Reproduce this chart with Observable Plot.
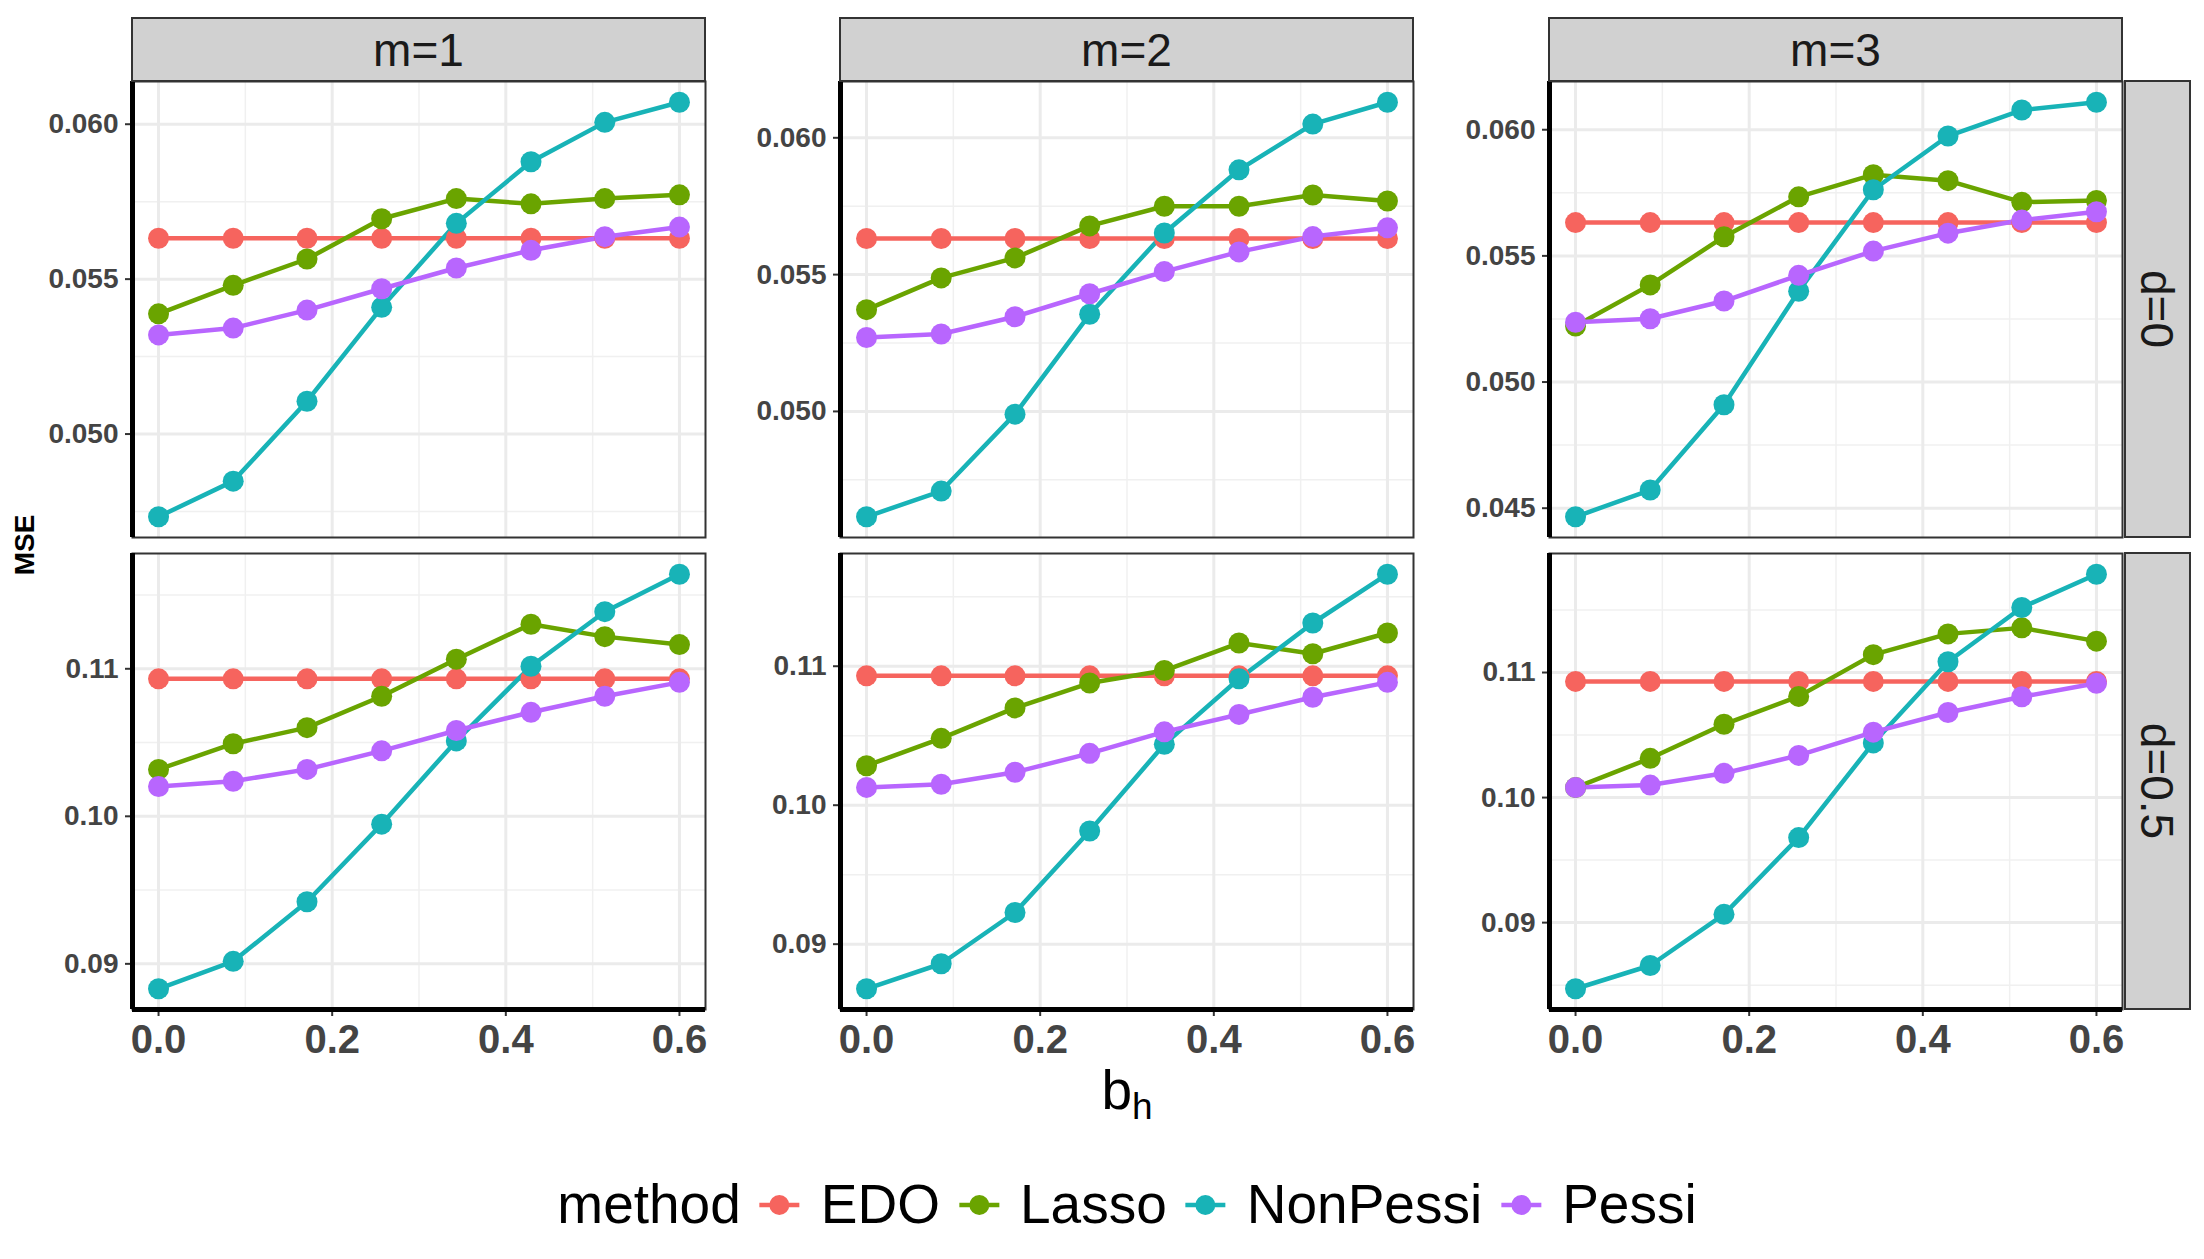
<!DOCTYPE html>
<html>
<head>
<meta charset="utf-8">
<script src="https://cdn.jsdelivr.net/npm/d3@7"></script>
<script src="https://cdn.jsdelivr.net/npm/@observablehq/plot@0.6"></script>
<style>
html, body { margin: 0; padding: 0; background: #fff; }
#root { position: relative; width: 2204px; height: 1259px; overflow: hidden; background: #fff;
  font-family: "Liberation Sans", Arial, Helvetica, sans-serif; }
.strip { position: absolute; box-sizing: border-box; background: #D1D1D1; border: 2px solid #333;
  display: flex; align-items: center; justify-content: center; color: #1A1A1A; font-size: 46px; }
.strip span { display: inline-block; white-space: nowrap; line-height: 1; }
.panel { position: absolute; }
.ylab { position: absolute; font-weight: bold; font-size: 28px; color: #000; white-space: nowrap;
  transform: translate(-50%, -50%) rotate(-90deg); line-height: 1; }
.xlab { position: absolute; font-size: 55px; color: #000; line-height: 1; white-space: nowrap; transform: translateX(-50%); }
.xlab sub { font-size: 37px; vertical-align: -10px; line-height: 1; }
.legend { position: absolute; display: flex; align-items: center; height: 55px; line-height: 1;
  font-size: 55px; color: #000; white-space: nowrap; transform: translateX(-50%); }
.legend svg { display: block; }
</style>
</head>
<body>
<div id="root"></div>
<script>
// ---------- data ----------
const methods = ["EDO", "Lasso", "NonPessi", "Pessi"];
const colors = ["#F6645E", "#6AA400", "#18B3B7", "#B866FE"];
const mLabels = ["m=1", "m=2", "m=3"];
const dLabels = ["d=0", "d=0.5"];
const bh = [0, 0.086, 0.171, 0.257, 0.343, 0.429, 0.514, 0.6];
const xTicks = [0, 0.2, 0.4, 0.6];
const xMinor = [0.1, 0.3, 0.5];

// d = 0
const edo_d0_m1      = [0.05632, 0.05632, 0.05632, 0.05632, 0.05632, 0.05632, 0.05632, 0.05632];
const lasso_d0_m1    = [0.05388, 0.05480, 0.05565, 0.05695, 0.05760, 0.05743, 0.05760, 0.05772];
const nonpessi_d0_m1 = [0.04733, 0.04848, 0.05106, 0.05409, 0.05680, 0.05879, 0.06006, 0.06071];
const pessi_d0_m1    = [0.05320, 0.05342, 0.05400, 0.05469, 0.05536, 0.05593, 0.05637, 0.05668];

const edo_d0_m2      = [0.05632, 0.05632, 0.05632, 0.05632, 0.05632, 0.05632, 0.05632, 0.05632];
const lasso_d0_m2    = [0.05372, 0.05488, 0.05561, 0.05678, 0.05750, 0.05750, 0.05791, 0.05769];
const nonpessi_d0_m2 = [0.04615, 0.04709, 0.04990, 0.05355, 0.05652, 0.05883, 0.06050, 0.06130];
const pessi_d0_m2    = [0.05270, 0.05283, 0.05346, 0.05430, 0.05511, 0.05583, 0.05639, 0.05671];

const edo_d0_m3      = [0.05632, 0.05632, 0.05632, 0.05632, 0.05632, 0.05632, 0.05632, 0.05632];
const lasso_d0_m3    = [0.05222, 0.05385, 0.05576, 0.05734, 0.05822, 0.05798, 0.05713, 0.05720];
const nonpessi_d0_m3 = [0.04466, 0.04572, 0.04910, 0.05360, 0.05762, 0.05975, 0.06078, 0.06109];
const pessi_d0_m3    = [0.05237, 0.05251, 0.05321, 0.05423, 0.05519, 0.05590, 0.05642, 0.05675];

// d = 0.5
const edo_d5_m1      = [0.10932, 0.10932, 0.10932, 0.10932, 0.10932, 0.10932, 0.10932, 0.10932];
const lasso_d5_m1    = [0.10318, 0.10492, 0.10601, 0.10814, 0.11065, 0.11302, 0.11218, 0.11164];
const nonpessi_d5_m1 = [0.08831, 0.09017, 0.09421, 0.09947, 0.10511, 0.11017, 0.11387, 0.11641];
const pessi_d5_m1    = [0.10202, 0.10238, 0.10318, 0.10444, 0.10582, 0.10705, 0.10814, 0.10908];

const edo_d5_m2      = [0.10931, 0.10931, 0.10931, 0.10931, 0.10931, 0.10931, 0.10931, 0.10931];
const lasso_d5_m2    = [0.10284, 0.10481, 0.10700, 0.10879, 0.10969, 0.11167, 0.11090, 0.11239];
const nonpessi_d5_m2 = [0.08679, 0.08859, 0.09228, 0.09814, 0.10438, 0.10910, 0.11311, 0.11662];
const pessi_d5_m2    = [0.10128, 0.10151, 0.10237, 0.10373, 0.10528, 0.10653, 0.10777, 0.10884];

const edo_d5_m3      = [0.10929, 0.10929, 0.10929, 0.10929, 0.10929, 0.10929, 0.10929, 0.10929];
const lasso_d5_m3    = [0.10080, 0.10314, 0.10586, 0.10809, 0.11143, 0.11309, 0.11357, 0.11251];
const nonpessi_d5_m3 = [0.08471, 0.08657, 0.09066, 0.09680, 0.10437, 0.11086, 0.11520, 0.11786];
const pessi_d5_m3    = [0.10080, 0.10100, 0.10194, 0.10337, 0.10523, 0.10680, 0.10806, 0.10914];

// y tick labels
const yTicks_d0_m12 = [0.050, 0.055, 0.060];
const yTicks_d0_m3  = [0.045, 0.050, 0.055, 0.060];
const yMinor_d0     = [0.0425, 0.0475, 0.0525, 0.0575, 0.0625];
const yTicks_d5     = [0.09, 0.10, 0.11];
const yMinor_d5     = [0.085, 0.095, 0.105, 0.115];

// ---------- layout ----------
const root = document.getElementById("root");
const PW = 573, PH = 456;
const colLeft = [132, 840, 1549];
const rowTop = [81, 553];
const stripTop = 17;

const panels = [
  {row: 0, col: 0, s: [edo_d0_m1, lasso_d0_m1, nonpessi_d0_m1, pessi_d0_m1], ticks: yTicks_d0_m12, minor: yMinor_d0, fmt: ".3f"},
  {row: 0, col: 1, s: [edo_d0_m2, lasso_d0_m2, nonpessi_d0_m2, pessi_d0_m2], ticks: yTicks_d0_m12, minor: yMinor_d0, fmt: ".3f"},
  {row: 0, col: 2, s: [edo_d0_m3, lasso_d0_m3, nonpessi_d0_m3, pessi_d0_m3], ticks: yTicks_d0_m3,  minor: yMinor_d0, fmt: ".3f"},
  {row: 1, col: 0, s: [edo_d5_m1, lasso_d5_m1, nonpessi_d5_m1, pessi_d5_m1], ticks: yTicks_d5, minor: yMinor_d5, fmt: ".2f"},
  {row: 1, col: 1, s: [edo_d5_m2, lasso_d5_m2, nonpessi_d5_m2, pessi_d5_m2], ticks: yTicks_d5, minor: yMinor_d5, fmt: ".2f"},
  {row: 1, col: 2, s: [edo_d5_m3, lasso_d5_m3, nonpessi_d5_m3, pessi_d5_m3], ticks: yTicks_d5, minor: yMinor_d5, fmt: ".2f"}
];

const xExt = d3.extent(bh);
const xPad = (xExt[1] - xExt[0]) * 0.05;
const xDom = [xExt[0] - xPad, xExt[1] + xPad];
const gridMajor = {stroke: "#EBEBEB", strokeOpacity: 1, strokeWidth: 3};
const gridMinor = {stroke: "#F0F0F0", strokeOpacity: 1, strokeWidth: 1.5};

for (const p of panels) {
  const data = methods.flatMap((m, k) => p.s[k].map((v, i) => ({method: m, bh: bh[i], mse: v})));
  const ext = d3.extent(data, d => d.mse);
  const pad = (ext[1] - ext[0]) * 0.05;
  const yDom = [ext[0] - pad, ext[1] + pad];
  const minor = p.minor.filter(v => v > yDom[0] && v < yDom[1]);
  const mL = 125, mR = 40, mT = 6, mB = p.row === 1 ? 70 : 6;
  const bottom = p.row === 1;
  const marks = [
    Plot.gridX(xMinor, gridMinor),
    Plot.gridY(minor, gridMinor),
    Plot.gridX(xTicks, gridMajor),
    Plot.gridY(p.ticks, gridMajor),
    Plot.frame({stroke: "#333", strokeWidth: 2}),
    Plot.line(data, {x: "bh", y: "mse", stroke: "method", strokeWidth: 4.5}),
    Plot.dot(data, {x: "bh", y: "mse", fill: "method", r: 10.5}),
    Plot.axisY(p.ticks, {anchor: "left", tickSize: 7, tickPadding: 7, tickFormat: d3.format(p.fmt),
      fontSize: 28, fontWeight: "bold", fill: "#444", stroke: "#333", strokeWidth: 2, label: null}),
    Plot.ruleX([xDom[0]], {stroke: "#000", strokeWidth: 5})
  ];
  if (bottom) {
    marks.push(
      Plot.axisX(xTicks, {anchor: "bottom", tickSize: 7, tickPadding: 8, tickFormat: d3.format(".1f"),
        fontSize: 40, fontWeight: "bold", fill: "#444", stroke: "#333", strokeWidth: 2, label: null}),
      Plot.ruleY([yDom[0]], {stroke: "#000", strokeWidth: 5})
    );
  }
  const svg = Plot.plot({
    width: PW + mL + mR, height: PH + mT + mB,
    marginLeft: mL, marginRight: mR, marginTop: mT, marginBottom: mB,
    x: {domain: xDom, axis: null},
    y: {domain: yDom, axis: null},
    color: {domain: methods, range: colors},
    style: {background: "transparent", overflow: "visible", fontFamily: "'Liberation Sans', Arial, sans-serif"},
    marks
  });
  const wrap = document.createElement("div");
  wrap.className = "panel";
  wrap.style.left = (colLeft[p.col] - mL) + "px";
  wrap.style.top = (rowTop[p.row] - mT) + "px";
  wrap.appendChild(svg);
  root.appendChild(wrap);
}

// top strips
mLabels.forEach((t, c) => {
  const d = document.createElement("div");
  d.className = "strip";
  d.style.left = (colLeft[c] - 1) + "px";
  d.style.top = stripTop + "px";
  d.style.width = (PW + 2) + "px";
  d.style.height = (rowTop[0] - stripTop + 1) + "px";
  d.innerHTML = `<span>${t}</span>`;
  root.appendChild(d);
});
// right strips
dLabels.forEach((t, r) => {
  const d = document.createElement("div");
  d.className = "strip";
  d.style.left = (colLeft[2] + PW + 2) + "px";
  d.style.top = (rowTop[r] - 1) + "px";
  d.style.width = "67px";
  d.style.height = (PH + 2) + "px";
  d.innerHTML = `<span style="transform: rotate(90deg)">${t}</span>`;
  root.appendChild(d);
});

// axis titles
const ylab = document.createElement("div");
ylab.className = "ylab";
ylab.style.left = "25px";
ylab.style.top = ((rowTop[0] + rowTop[1] + PH) / 2) + "px";
ylab.textContent = "MSE";
root.appendChild(ylab);

const xcenter = (colLeft[0] + colLeft[2] + PW) / 2;
const xlab = document.createElement("div");
xlab.className = "xlab";
xlab.style.left = xcenter + "px";
xlab.style.top = "1063px";
xlab.innerHTML = "b<sub>h</sub>";
root.appendChild(xlab);

// legend
const leg = document.createElement("div");
leg.className = "legend";
leg.style.left = xcenter + "px";
leg.style.top = "1177px";
let html = `<span>method</span>`;
methods.forEach((m, i) => {
  html += `<svg width="44" height="44" style="margin-left:17px;margin-right:19px">
    <line x1="2" x2="42" y1="22" y2="22" stroke="${colors[i]}" stroke-width="4.5"/>
    <circle cx="22" cy="22" r="10" fill="${colors[i]}"/></svg><span>${m}</span>`;
});
leg.innerHTML = html;
root.appendChild(leg);
</script>
</body>
</html>
